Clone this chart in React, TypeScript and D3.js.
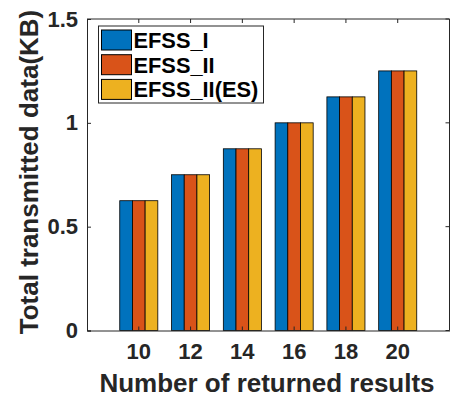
import React, { useEffect, useRef } from 'react';
import * as d3 from 'd3';

const categories = ['10', '12', '14', '16', '18', '20'];
const seriesNames = ['EFSS_I', 'EFSS_II', 'EFSS_II(ES)'];
const efss1 = [0.625, 0.75, 0.875, 1.0, 1.125, 1.25];
const efss2 = [0.625, 0.75, 0.875, 1.0, 1.125, 1.25];
const efss2es = [0.625, 0.75, 0.875, 1.0, 1.125, 1.25];
const colors = ['#0072BD', '#D95319', '#EDB120'];
const yTicks = [0, 0.5, 1, 1.5];

const W = 453;
const H = 401;
const margin = { top: 19, right: 3.5, bottom: 70.5, left: 87 };
const axisColor = '#262626';
const font = '"Liberation Sans", Arial, sans-serif';

export default function App() {
  const leftAxisRef = useRef<SVGGElement>(null);
  const bottomAxisRef = useRef<SVGGElement>(null);

  const innerW = W - margin.left - margin.right;
  const innerH = H - margin.top - margin.bottom;

  const x = d3.scaleBand().domain(categories).range([0, innerW]).paddingInner(0).paddingOuter(0.5);
  const y = d3.scaleLinear().domain([0, 1.5]).range([innerH, 0]);
  const groupW = x.bandwidth() * 0.735;
  const sub = d3.scaleBand().domain(seriesNames).range([0, groupW]).padding(0);

  const series = [efss1, efss2, efss2es];

  useEffect(() => {
    const left = d3.select(leftAxisRef.current);
    left.call(d3.axisLeft(y).tickValues(yTicks).tickFormat(d3.format('~g')).tickSize(-4).tickPadding(9));
    left.select('.domain').attr('stroke', axisColor);
    left.selectAll('.tick line').attr('stroke', axisColor);
    left.selectAll('.tick text')
      .attr('fill', axisColor)
      .attr('font-size', 22)
      .attr('font-weight', 'bold')
      .attr('font-family', font);

    const bottom = d3.select(bottomAxisRef.current);
    bottom.call(d3.axisBottom(x).tickSize(-4).tickPadding(13).tickSizeOuter(0));
    bottom.select('.domain').attr('stroke', axisColor);
    bottom.selectAll('.tick line').attr('stroke', axisColor);
    bottom.selectAll('.tick text')
      .attr('fill', axisColor)
      .attr('font-size', 22)
      .attr('font-weight', 'bold')
      .attr('font-family', font);
  }, []);

  return (
    <svg width={W} height={H} style={{ position: 'absolute', left: 0, top: 0, background: '#fff' }}>
      <g transform={`translate(${margin.left},${margin.top})`}>
        {/* bars */}
        {categories.map((c, i) => (
          <g key={c} transform={`translate(${(x(c) as number) + (x.bandwidth() - groupW) / 2},0)`}>
            {series.map((s, j) => (
              <rect
                key={j}
                x={sub(seriesNames[j])}
                y={y(s[i])}
                width={sub.bandwidth()}
                height={innerH - y(s[i])}
                fill={colors[j]}
                stroke="#000"
                strokeWidth={0.8}
              />
            ))}
          </g>
        ))}

        {/* box: top and right with mirrored ticks */}
        <line x1={0} x2={innerW} y1={0} y2={0} stroke={axisColor} />
        <line x1={innerW} x2={innerW} y1={0} y2={innerH} stroke={axisColor} />
        {categories.map(c => {
          const cx = (x(c) as number) + x.bandwidth() / 2;
          return <line key={c} x1={cx} x2={cx} y1={0} y2={4} stroke={axisColor} />;
        })}
        {yTicks.map(t => (
          <line key={t} x1={innerW} x2={innerW - 4} y1={y(t)} y2={y(t)} stroke={axisColor} />
        ))}

        <g ref={leftAxisRef} />
        <g ref={bottomAxisRef} transform={`translate(0,${innerH})`} />
      </g>

      {/* legend */}
      <g transform="translate(98.5,26)">
        <rect x={0} y={0} width={165} height={77} fill="#fff" stroke={axisColor} strokeWidth={1} />
        {seriesNames.map((n, j) => (
          <g key={n} transform={`translate(0,${4 + j * 24.7})`}>
            <rect x={3} y={0} width={30} height={20} fill={colors[j]} stroke="#000" strokeWidth={1} />
            <text x={35} y={18} fontSize={21.8} fontWeight="bold" fontFamily={font} fill="#000">
              {n}
            </text>
          </g>
        ))}
      </g>

      {/* axis titles */}
      <text
        x={267}
        y={392}
        textAnchor="middle"
        fontSize={26}
        fontWeight="bold"
        fontFamily={font}
        fill={axisColor}
      >
        Number of returned results
      </text>
      <text
        transform="translate(38,172) rotate(-90)"
        textAnchor="middle"
        fontSize={26}
        fontWeight="bold"
        fontFamily={font}
        fill={axisColor}
      >
        Total transmitted data(KB)
      </text>
    </svg>
  );
}
